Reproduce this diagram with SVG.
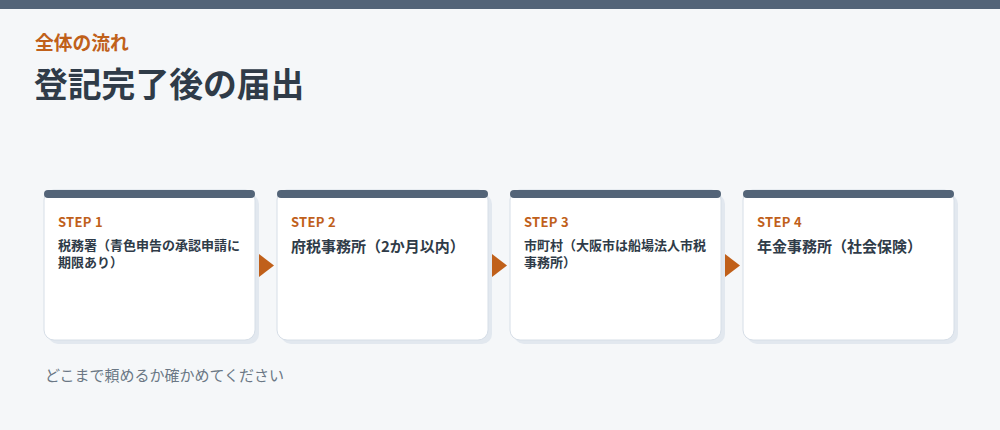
<svg xmlns="http://www.w3.org/2000/svg" width="1000" height="430" viewBox="0 0 1000 430">
<style>
.jp{font-family:"Noto Sans CJK JP","Noto Sans",sans-serif}
.step{font-family:"Noto Sans CJK JP","Noto Sans",sans-serif;font-size:13px;font-weight:700;fill:#c0601a;letter-spacing:0.3px}
.body{font-family:"Noto Sans CJK JP","Noto Sans",sans-serif;font-weight:700;fill:#2f3b48}
.shadow{fill:#e2e8ef}
.card{fill:#ffffff;stroke:#d6dee7;stroke-width:1}
.bar{fill:#536478}
.arrow{fill:#c0601a}
</style>
<rect x="0" y="0" width="1000" height="430" fill="#f5f7f9"/>
<rect x="0" y="0" width="1000" height="9" fill="#536478"/>
<text class="jp" x="35" y="50" font-size="18.8" font-weight="700" fill="#c0601a">全体の流れ</text>
<text class="jp" x="34" y="97" font-size="33.8" font-weight="700" fill="#2f3b48">登記完了後の届出</text>

<g id="step1">
<rect class="shadow" x="48" y="194" width="211" height="150" rx="10"/>
<rect class="card" x="44" y="190" width="211" height="150" rx="10"/>
<rect class="bar" x="44" y="190" width="211" height="8" rx="4"/>
<text class="step" x="58" y="227">STEP 1</text>
<text class="body" x="58" y="250" font-size="13">税務署（青色申告の承認申請に</text>
<text class="body" x="58" y="267" font-size="13">期限あり）</text>
</g>
<g id="step2">
<rect class="shadow" x="281" y="194" width="211" height="150" rx="10"/>
<rect class="card" x="277" y="190" width="211" height="150" rx="10"/>
<rect class="bar" x="277" y="190" width="211" height="8" rx="4"/>
<text class="step" x="291" y="227">STEP 2</text>
<text class="body" x="291" y="252" font-size="15">府税事務所（2か月以内）</text>
</g>
<g id="step3">
<rect class="shadow" x="514" y="194" width="211" height="150" rx="10"/>
<rect class="card" x="510" y="190" width="211" height="150" rx="10"/>
<rect class="bar" x="510" y="190" width="211" height="8" rx="4"/>
<text class="step" x="524" y="227">STEP 3</text>
<text class="body" x="524" y="250" font-size="13">市町村（大阪市は船場法人市税</text>
<text class="body" x="524" y="267" font-size="13">事務所）</text>
</g>
<g id="step4">
<rect class="shadow" x="747" y="194" width="211" height="150" rx="10"/>
<rect class="card" x="743" y="190" width="211" height="150" rx="10"/>
<rect class="bar" x="743" y="190" width="211" height="8" rx="4"/>
<text class="step" x="757" y="227">STEP 4</text>
<text class="body" x="757" y="252" font-size="15">年金事務所（社会保険）</text>
</g>
<g id="connectors">
<polygon class="arrow" points="259,254 274,265.5 259,277"/>
<polygon class="arrow" points="492,254 507,265.5 492,277"/>
<polygon class="arrow" points="725,254 740,265.5 725,277"/>
</g>
<text class="jp" x="45" y="381" font-size="15" fill="#6b7785">どこまで頼めるか確かめてください</text>
</svg>
